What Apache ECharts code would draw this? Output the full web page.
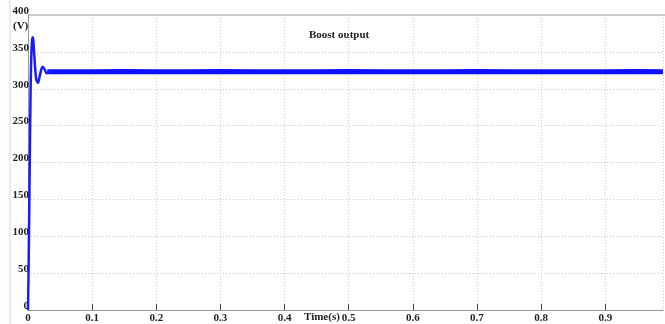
<!DOCTYPE html>
<html>
<head>
<meta charset="utf-8">
<script src="https://cdn.jsdelivr.net/npm/echarts@6/dist/echarts.min.js"></script>
<style>
  html, body { margin: 0; padding: 0; background: #fff; }
  #chart { width: 665px; height: 324px; }
</style>
</head>
<body>
<div id="chart"></div>
<script>
// start-up transient (s, V)
var riseTime = [0, 0.001, 0.002, 0.003, 0.004, 0.005, 0.006, 0.007, 0.008, 0.0095, 0.011, 0.013, 0.0155, 0.018, 0.021, 0.023, 0.026, 0.029, 0.033, 0.036];
var riseVolts = [0, 60, 140, 220, 295, 340, 362, 370, 368, 350, 330, 312, 308, 316, 327, 330, 326, 321, 323, 323];
// steady-state output (s, V)
var steadyTime = [0.03, 0.05, 0.1, 0.15, 0.2, 0.25, 0.3, 0.35, 0.4, 0.45, 0.5, 0.55, 0.6, 0.65, 0.7, 0.75, 0.8, 0.85, 0.9, 0.95, 0.99];
var steadyVolts = [323, 323, 323, 323.5, 323, 323, 323.5, 323, 323, 323, 323.5, 323, 323, 323, 323.5, 323, 323, 323, 323, 323.5, 323];
var xTicks = [0, 0.1, 0.2, 0.3, 0.4, 0.5, 0.6, 0.7, 0.8, 0.9];
var yTicks = [0, 50, 100, 150, 200, 250, 300, 350, 400];

function pairs(xs, ys) {
  var out = [];
  for (var i = 0; i < xs.length; i++) out.push([xs[i], ys[i]]);
  return out;
}

var chart = echarts.init(document.getElementById('chart'));
var labelFont = { fontFamily: 'Liberation Serif', fontWeight: 'bold', fontSize: 11, color: '#222' };

chart.setOption({
  backgroundColor: '#fff',
  animation: false,
  grid: { left: 28, right: 2, top: 15, bottom: 13 },
  xAxis: {
    type: 'value',
    min: 0,
    max: 0.99,
    interval: 0.1,
    axisLine: { show: true, lineStyle: { color: '#999', width: 1 } },
    axisTick: { show: true, inside: true, length: 6, lineStyle: { color: '#444' } },
    axisLabel: Object.assign({ margin: 3, showMaxLabel: false, formatter: function (v) {
      var r = Math.round(v * 10) / 10;
      return xTicks.indexOf(r) >= 0 ? String(r) : '';
    } }, labelFont),
    splitLine: { show: true, lineStyle: { color: '#ccc', type: [1, 2] } }
  },
  yAxis: {
    type: 'value',
    min: 0,
    max: 400,
    interval: 50,
    axisLine: { show: true, lineStyle: { color: '#999', width: 1 } },
    axisTick: { show: false },
    axisLabel: Object.assign({ margin: -1, verticalAlign: 'bottom', lineHeight: 8, formatter: function (v) {
      return yTicks.indexOf(v) >= 0 ? String(v) : '';
    } }, labelFont),
    splitLine: { show: true, lineStyle: { color: '#ccc', type: [1, 2] } }
  },
  graphic: [
    { type: 'line', shape: { x1: 28, y1: 15, x2: 665, y2: 15 }, style: { stroke: '#999', lineWidth: 1 } },
    { type: 'line', shape: { x1: 10, y1: 0, x2: 10, y2: 324 }, style: { stroke: '#e8d8c8', lineWidth: 1 } },
    { type: 'text', left: 13, top: 21, style: { text: '(V)', font: 'bold 11px "Liberation Serif"', fill: '#222' } },
    { type: 'text', left: 304, top: 312, style: { text: 'Time(s)', font: 'bold 11px "Liberation Serif"', fill: '#222' } },
    { type: 'text', left: 309, top: 30, style: { text: 'Boost output', font: 'bold 11px "Liberation Serif"', fill: '#222' } }
  ],
  series: [
    {
      type: 'line',
      data: pairs(steadyTime, steadyVolts),
      showSymbol: false,
      lineStyle: { color: '#1010ff', width: 5 }
    },
    {
      type: 'line',
      data: pairs(riseTime, riseVolts),
      showSymbol: false,
      smooth: 0.3,
      lineStyle: { color: '#1a1aff', width: 2.5 }
    }
  ]
});
</script>
</body>
</html>
